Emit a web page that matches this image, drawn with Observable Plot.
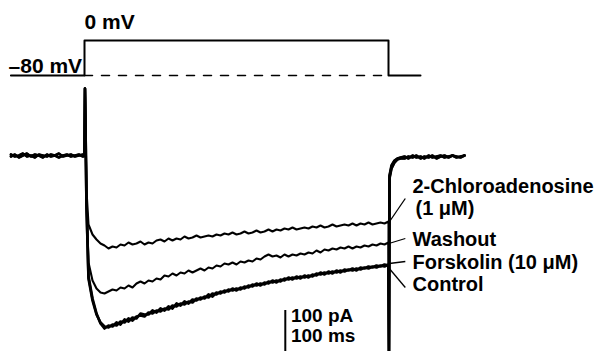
<!DOCTYPE html>
<html>
<head>
<meta charset="utf-8">
<script src="https://cdn.jsdelivr.net/npm/d3@7"></script>
<script src="https://cdn.jsdelivr.net/npm/@observablehq/plot@0.6"></script>
<style>
  html, body { margin: 0; padding: 0; background: #fff; overflow: hidden; }
  #chart svg { display: block; }
</style>
</head>
<body>
<div id="chart"></div>
<script>
// ---------- Voltage protocol (mV vs ms) ----------
const vTimes  = [-92, 0, 0, 380, 380, 420];
const vValues = [-80, -80, 0, 0, -80, -80];
const dashTimes  = [0, 380];
const dashValues = [-80, -80];
const vLabelStep = [{t: 0, v: 26, text: "0 mV"}];
const vLabelHold = [{t: -3, v: -75, text: "–80 mV"}];

// ---------- Current traces (pA vs ms) ----------
const baseTimes = [-92,-87,-82,-77,-72,-67,-62,-57,-52,-47,-42,-37,-32,-27,-22,-17,-12,-7,-2];
const baselineA = [3,-3,0,6,-3,0,-6,3,0,-3,3,0,-6,0,3,-3,0,3,-3];
const baselineB = [-3,3,-6,0,6,-3,3,0,-6,3,-3,0,6,-3,0,3,-3,0,3];
const onsetPeak = 201;      // capacitive transient at step onset
const offsetDip = -600;     // capacitive transient at step offset

const stepTimes = [2.5,5,10,15,20,25,30,35,40,45,50,55,60,65,70,75,80,85,90,95,100,105,110,115,120,125,130,135,140,145,150,155,160,165,170,175,180,185,190,195,200,205,210,215,220,225,230,235,240,245,250,255,260,265,270,275,280,285,290,295,300,305,310,315,320,325,330,335,340,345,350,355,360,365,370,375,380];

const chloro = [-105,-207,-237,-252,-264,-270,-279,-273,-276,-267,-270,-261,-267,-264,-258,-267,-261,-264,-255,-252,-258,-249,-255,-249,-252,-243,-249,-246,-240,-246,-243,-240,-243,-237,-240,-234,-237,-231,-237,-234,-228,-234,-231,-225,-231,-228,-222,-228,-222,-225,-219,-222,-216,-222,-219,-216,-219,-213,-216,-210,-216,-213,-207,-213,-210,-207,-210,-204,-210,-204,-207,-201,-207,-204,-201,-204,-198];
const washout = [-135,-321,-375,-399,-411,-414,-408,-402,-405,-396,-399,-390,-396,-384,-378,-384,-375,-378,-369,-372,-360,-363,-354,-360,-351,-354,-345,-351,-345,-339,-345,-336,-339,-330,-333,-324,-327,-321,-327,-318,-321,-315,-318,-309,-312,-303,-297,-303,-300,-306,-297,-303,-297,-300,-294,-297,-291,-294,-285,-291,-282,-285,-279,-282,-276,-279,-273,-279,-273,-276,-270,-273,-267,-270,-264,-267,-261];
const forskolin = [-144,-363,-429,-474,-504,-519,-510,-513,-501,-507,-492,-498,-486,-489,-474,-477,-477,-465,-471,-459,-465,-453,-459,-444,-450,-438,-444,-432,-435,-426,-429,-417,-423,-411,-414,-405,-408,-399,-405,-396,-399,-390,-393,-384,-390,-381,-384,-375,-381,-372,-375,-366,-372,-363,-369,-360,-366,-357,-360,-351,-357,-348,-354,-345,-351,-342,-345,-339,-345,-336,-339,-333,-336,-330,-333,-327,-330];
const control = [-150,-369,-435,-477,-501,-513,-516,-507,-510,-498,-501,-489,-495,-483,-480,-483,-471,-474,-465,-468,-459,-462,-450,-453,-444,-447,-438,-441,-429,-432,-423,-426,-414,-417,-408,-411,-402,-405,-399,-402,-393,-396,-387,-390,-384,-387,-378,-381,-375,-378,-369,-372,-366,-369,-363,-366,-360,-363,-354,-357,-351,-354,-348,-351,-345,-348,-342,-345,-339,-342,-336,-339,-333,-336,-330,-333,-327];

const tailTimes = [381.25,383.75,387.5,391,395,400,405,410,415,420,425,430,435,440,445,450,455,460,465,470,475];
const tailA = [-60,-30,-15,-9,-6,-3,-9,0,-6,-3,-9,0,-6,-3,0,-6,-3,0,-6,-3,0];
const tailB = [-69,-39,-21,-12,-9,-9,-3,-6,0,-9,-3,-6,0,-9,-3,0,-6,0,-3,-6,0];

const traceLabels = [
  {t: 410,    I: -111, text: "2-Chloroadenosine"},
  {t: 413.75, I: -177, text: "(1 μM)"},
  {t: 410,    I: -270, text: "Washout"},
  {t: 410,    I: -339, text: "Forskolin (10 μM)"},
  {t: 410,    I: -405, text: "Control"}
];
const leaders = [
  {t1: 380.5, I1: -201, t2: 401, I2: -129},
  {t1: 380.5, I1: -264, t2: 401, I2: -249},
  {t1: 381,   I1: -324, t2: 401, I2: -318},
  {t1: 381,   I1: -339, t2: 401, I2: -396}
];
const scaleBar = [{t: 251, I1: -465, I2: -588}];
const scaleLabels = [
  {t: 258, I: -498, text: "100 pA"},
  {t: 258, I: -558, text: "100 ms"}
];

// ---------- build trace tables ----------
function buildTrace(name, base, step, tail) {
  const pts = [];
  baseTimes.forEach((t, i) => pts.push({t, I: base[i], name}));
  pts.push({t: 0, I: 0, name});
  pts.push({t: 0.6, I: onsetPeak, name});
  stepTimes.forEach((t, i) => { if (step[i] !== undefined) pts.push({t, I: step[i], name}); });
  pts.push({t: 380.6, I: offsetDip, name});
  tailTimes.forEach((t, i) => pts.push({t, I: tail[i], name}));
  return pts;
}
const trChloro = buildTrace("2-Chloroadenosine", baselineA, chloro, tailA);
const trWash   = buildTrace("Washout", baselineB, washout, tailB);
const trFors   = buildTrace("Forskolin", baselineB, forskolin, tailA);
const trCtrl   = buildTrace("Control", baselineA, control, tailB);

const voltage = vTimes.map((t, i) => ({t, v: vValues[i]}));
const dashed  = dashTimes.map((t, i) => ({t, v: dashValues[i]}));

const FONT = "Liberation Sans, Arial, Helvetica, sans-serif";
const xDomain = [-105, 650];

const protocolPlot = Plot.plot({
  width: 604, height: 85,
  marginTop: 0, marginBottom: 0, marginLeft: 0, marginRight: 0,
  x: {domain: xDomain, axis: null},
  y: {domain: [-102.86, 91.43], axis: null},
  marks: [
    Plot.line(voltage, {x: "t", y: "v", stroke: "#000", strokeWidth: 2}),
    Plot.line(dashed, {x: "t", y: "v", stroke: "#000", strokeWidth: 1.5, strokeDasharray: "8,9"}),
    Plot.text(vLabelStep, {x: "t", y: "v", text: "text", textAnchor: "start", lineAnchor: "bottom",
      fontSize: 21, fontWeight: "bold", fontFamily: FONT, fill: "#000"}),
    Plot.text(vLabelHold, {x: "t", y: "v", text: "text", textAnchor: "end", lineAnchor: "bottom",
      fontSize: 21, fontWeight: "bold", fontFamily: FONT, fill: "#000"})
  ]
});

const currentPlot = Plot.plot({
  width: 604, height: 266,
  marginTop: 0, marginBottom: 0, marginLeft: 0, marginRight: 0,
  x: {domain: xDomain, axis: null},
  y: {domain: [-588, 210], axis: null},
  marks: [
    Plot.line(trChloro, {x: "t", y: "I", stroke: "#000", strokeWidth: 2.1, clip: true}),
    Plot.line(trWash,   {x: "t", y: "I", stroke: "#000", strokeWidth: 2.1, clip: true}),
    Plot.line(trFors,   {x: "t", y: "I", stroke: "#000", strokeWidth: 2.7, clip: true}),
    Plot.line(trCtrl,   {x: "t", y: "I", stroke: "#000", strokeWidth: 2.7, clip: true}),
    Plot.link(leaders, {x1: "t1", y1: "I1", x2: "t2", y2: "I2", stroke: "#000", strokeWidth: 1.3}),
    Plot.text(traceLabels, {x: "t", y: "I", text: "text", textAnchor: "start", lineAnchor: "bottom",
      fontSize: 20, fontWeight: "bold", fontFamily: FONT, fill: "#000"}),
    Plot.ruleX(scaleBar, {x: "t", y1: "I1", y2: "I2", stroke: "#000", strokeWidth: 2}),
    Plot.text(scaleLabels, {x: "t", y: "I", text: "text", textAnchor: "start", lineAnchor: "bottom",
      fontSize: 19, fontWeight: "bold", fontFamily: FONT, fill: "#000"})
  ]
});

document.getElementById("chart").append(protocolPlot, currentPlot);
</script>
</body>
</html>
